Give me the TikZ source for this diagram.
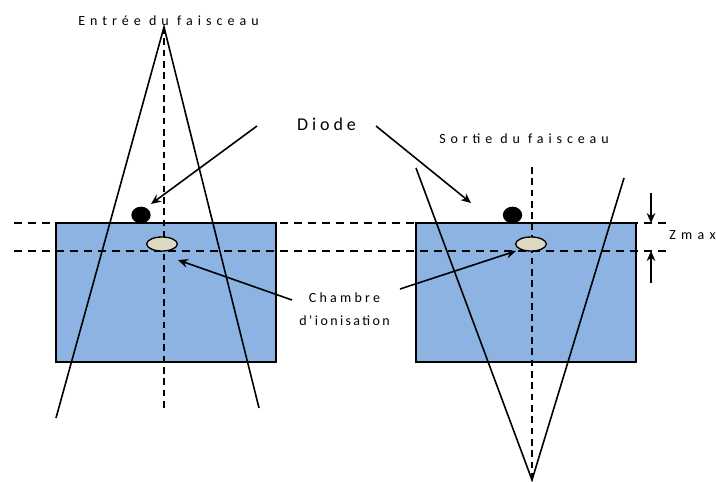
\documentclass[tikz,border=0pt]{standalone}
\usepackage{fontspec}
\setmainfont{Carlito}
\usetikzlibrary{arrows.meta,shapes.geometric}
\definecolor{wat}{RGB}{141,179,226}
\definecolor{cham}{RGB}{221,217,195}
\tikzset{
 line/.style={draw=black,line width=1.2pt},
 dashline/.style={draw=black,line width=0.8pt,dash pattern=on 6pt off 4.5pt},
 vdash/.style={draw=black,line width=1pt,dash pattern=on 5pt off 3.5pt},
 arr/.style={line,-{Stealth[length=7.5pt,width=6.5pt]}},
 block/.style={fill=wat,draw=black,line width=1pt},
 diode/.style={ellipse,fill=black,minimum width=14.5pt,minimum height=12.5pt,inner sep=0pt},
 chamber/.style={ellipse,draw=black,fill=cham,minimum width=23pt,minimum height=10.5pt,inner sep=0pt,line width=1pt},
 lab/.style={inner sep=0pt,font=\fontsize{10.5pt}{17pt}\selectfont,text=black,align=center}
}
\begin{document}
\begin{tikzpicture}[x=0.75pt,y=-0.75pt]
\useasboundingbox (0,0) rectangle (716,481);
\fill[white] (0,0) rectangle (716,481);
\draw[block] (56,223) rectangle (276,362);
\draw[block] (416,223) rectangle (636,362);
\coordinate (h1a) at (14,223); \coordinate (h1b) at (670,223);
\coordinate (h2a) at (14,251); \coordinate (h2b) at (667,251);
\draw[dashline] (h1a) -- (h1b);
\draw[dashline] (h2a) -- (h2b);
\draw[line] (56,223) -- (276,223);
\draw[line] (416,223) -- (636,223);
\coordinate (v1a) at (164,27); \coordinate (v1b) at (164,409);
\coordinate (v2a) at (532,167); \coordinate (v2b) at (532,481);
\draw[vdash] (v1a) -- (v1b);
\draw[vdash] (v2a) -- (v2b);
\coordinate (apexA) at (164,27);
\coordinate (a1) at (56,418);
\coordinate (a2) at (259,408);
\draw[line] (a1) -- (apexA) -- (a2);
\coordinate (apexB) at (532,480);
\coordinate (b1) at (416,168);
\coordinate (b2) at (624,178);
\draw[line] (b1) -- (apexB) -- (b2);
\node[diode] (d1) at (141,215) {};
\node[diode] (d2) at (512.5,215) {};
\node[chamber] (c1) at (162,244) {};
\node[chamber] (c2) at (531,244) {};
\node[lab] (t1) at (168.5,21) {\addfontfeatures{LetterSpace=36}Entrée du faisceau};
\node[lab,font=\fontsize{13.5pt}{14pt}\selectfont] (t2) at (326.5,124) {\addfontfeatures{LetterSpace=22}Diode};
\node[lab] (t3) at (524,139) {\addfontfeatures{LetterSpace=35}Sortie du faisceau};
\node[lab] (t4) at (344.5,309) {\addfontfeatures{LetterSpace=23}Chambre\\\addfontfeatures{LetterSpace=17}d’ionisation};
\node[lab,anchor=west] (t5) at (669,235) {\addfontfeatures{LetterSpace=38}Zmax};
\coordinate (s1) at (257,126);
\coordinate (e1) at (151,204);
\coordinate (s2) at (376,126);
\coordinate (e2) at (471,203);
\coordinate (s3) at (292,300);
\coordinate (e3) at (178,260);
\coordinate (s4) at (400,289);
\coordinate (e4) at (516,251);
\draw[arr] (s1) -- (e1);
\draw[arr] (s2) -- (e2);
\draw[arr] (s3) -- (e3);
\draw[arr] (s4) -- (e4);
\coordinate (z1) at (651,193);
\coordinate (z2) at (651,223);
\coordinate (z3) at (651,283);
\coordinate (z4) at (651,251);
\draw[arr] (z1) -- (z2);
\draw[arr] (z3) -- (z4);
\end{tikzpicture}
\end{document}
